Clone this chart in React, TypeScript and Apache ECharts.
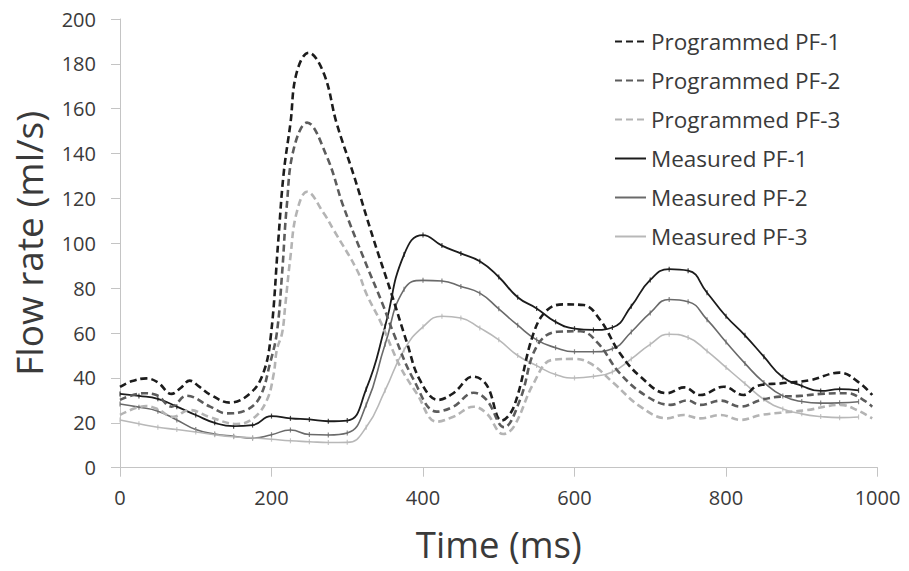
import React, { useEffect, useRef } from "react";
import * as echarts from "echarts";

const seriesNames = [
  "Programmed PF-1",
  "Programmed PF-2",
  "Programmed PF-3",
  "Measured PF-1",
  "Measured PF-2",
  "Measured PF-3",
];

// Programmed curves: [time ms, flow ml/s]
const progPF1: [number, number][] = [
  [0, 36], [15, 38.5], [35, 39.8], [50, 38], [68, 32.9], [80, 35.5], [92, 38.8], [105, 36],
  [120, 32.4], [145, 29], [172, 33.2], [189, 42], [199, 58.4], [209, 101.5], [216, 131],
  [225, 153.5], [233, 175.8], [249, 185], [269, 175.8], [286, 153.5], [308, 131], [335, 101.5],
  [357, 79], [379, 55.5], [396, 39], [420, 30.2], [440, 33.2], [466, 40.6], [484, 36.9],
  [504, 21], [520, 27.2], [546, 60], [564, 70.3], [586, 72.8], [612, 72.5], [634, 65.8],
  [660, 51], [687, 40.6], [722, 33.2], [745, 35.8], [766, 32.4], [797, 36.1], [823, 32.4],
  [841, 36.4], [872, 37.6], [911, 39], [950, 42.4], [977, 37.6], [993, 32.4],
];
const progPF2: [number, number][] = [
  [0, 30.2], [31, 33.2], [48, 32.4], [68, 27.2], [88, 32.1], [119, 27.2], [141, 24.2],
  [167, 25.7], [185, 31.7], [198, 46.5], [207, 60], [214, 86.7], [220, 116], [229, 141.6],
  [247, 153.8], [273, 138.7], [295, 116.4], [321, 94], [348, 71.8], [361, 60], [388, 39],
  [418, 25], [440, 27.2], [467, 33.4], [484, 30.2], [507, 18], [528, 30.2], [550, 54],
  [577, 60.6], [608, 60.8], [631, 55.5], [660, 42], [696, 31.7], [727, 28], [749, 30],
  [766, 28], [793, 29.9], [819, 27.2], [846, 30.2], [872, 31.7], [898, 32], [925, 32.9],
  [960, 33.2], [980, 30.5], [993, 27.2],
];
const progPF3: [number, number][] = [
  [0, 23.5], [35, 27.5], [50, 26], [70, 22.7], [92, 25.7], [119, 22.5], [154, 19.5],
  [176, 22], [194, 30.2], [203, 42], [207, 52.5], [214, 60], [218, 71.8], [225, 94],
  [233, 113.4], [247, 123], [269, 113.4], [282, 106], [313, 88], [326, 77], [344, 65],
  [370, 45], [392, 33], [418, 20.5], [440, 22.7], [467, 27.2], [484, 24.2], [506, 15],
  [520, 18.3], [546, 37.6], [570, 48], [599, 48.5], [621, 46.5], [652, 37.6], [687, 27.2],
  [722, 22], [744, 23.5], [766, 22], [793, 23.5], [819, 21.3], [846, 23.5], [872, 24.5],
  [907, 25.7], [951, 28], [973, 25.7], [993, 22],
];

// Measured curves sampled every 25 ms
const measuredTimes = [
  0, 25, 50, 75, 100, 125, 150, 175, 200, 225, 250, 275, 300, 325, 350, 375, 400, 425, 450,
  475, 500, 525, 550, 575, 600, 625, 650, 675, 700, 725, 750, 775, 800, 825, 850, 875, 900,
  925, 950, 975,
];
const measPF1 = [
  32.9, 32, 30.7, 27.2, 23.5, 20, 18.5, 19, 23, 22, 21.5, 20.7, 21, 35, 63, 95, 103.7, 99,
  95.5, 92, 85, 76, 71, 65, 62, 61.4, 62.5, 72, 83.7, 88.5, 87.8, 78, 67.5, 59, 49.5, 40.3,
  36.5, 34.2, 35, 34.5,
];
const measPF2 = [
  28.4, 27, 25.2, 21.3, 17, 15, 14, 13.2, 14.7, 16.8, 14.8, 14.6, 15.5, 28, 55, 79.5, 83.5,
  83.2, 80.8, 77.8, 70.8, 63.5, 57, 53.5, 51.7, 51.7, 53, 60.5, 69, 75, 74, 66, 56, 46.5, 38,
  32, 29.5, 28.8, 28.9, 29.4,
];
const measPF3 = [
  21.3, 19.6, 18, 17, 15.9, 14.7, 13.8, 13.3, 12.7, 12, 11.6, 11.2, 11.3, 18, 34.5, 52.5,
  62.8, 67.5, 66.7, 62.3, 57, 50, 45.5, 41.5, 40, 40.7, 42.7, 48.5, 55, 59.5, 58, 52, 44.7,
  37.5, 30.5, 26.2, 24, 22.8, 22.3, 22.6,
];

const colors = ["#1c1c1c", "#5c5c5c", "#b4b4b4", "#1c1c1c", "#6a6a6a", "#b8b8b8"];
const FONT = "'Open Sans', 'DejaVu Sans', sans-serif";

export default function App() {
  const ref = useRef<HTMLDivElement>(null);
  useEffect(() => {
    if (!ref.current) return;
    const chart = echarts.init(ref.current, null, { renderer: "svg" });
    const pair = (ys: number[]) => measuredTimes.map((t, i) => [t, ys[i]]);
    const prog = [progPF1, progPF2, progPF3];
    const meas = [measPF1, measPF2, measPF3];
    const series: any[] = [];
    prog.forEach((d, i) => {
      series.push({
        name: seriesNames[i],
        type: "line",
        data: d,
        smooth: 0.4,
        symbol: "none",
        z: 3,
        lineStyle: { color: colors[i], width: 2.6, type: [7, 4] },
        itemStyle: { color: colors[i] },
      });
    });
    meas.forEach((ys, i) => {
      series.push({
        name: seriesNames[i + 3],
        type: "line",
        data: pair(ys),
        smooth: 0.5,
        symbol: "none",
        z: 2,
        lineStyle: { color: colors[i + 3], width: i === 0 ? 1.8 : 1.6 },
        itemStyle: { color: colors[i + 3] },
      });
      series.push({
        name: seriesNames[i + 3] + " err",
        type: "scatter",
        data: pair(ys),
        symbol: "rect",
        symbolSize: [1.2, 5],
        z: 2,
        itemStyle: { color: colors[i + 3] },
        silent: true,
      });
    });
    chart.setOption({
      animation: false,
      backgroundColor: "#ffffff",
      grid: { left: 120, right: 31.5, top: 19, bottom: 103.3, containLabel: false },
      legend: {
        data: seriesNames,
        orient: "vertical",
        left: 609,
        top: 25,
        itemWidth: 31,
        itemHeight: 14,
        itemGap: 16,
        itemStyle: { opacity: 0 },
        textStyle: { fontFamily: FONT, fontSize: 22.5, color: "#3a3a3a" },
      },
      xAxis: {
        type: "value",
        min: 0,
        max: 1000,
        interval: 200,
        name: "Time (ms)",
        nameLocation: "middle",
        nameGap: 58,
        nameTextStyle: { fontFamily: FONT, fontSize: 36.5, color: "#3a3a3a" },
        axisLine: { show: true, lineStyle: { color: "#c4c4c4", width: 1 } },
        axisTick: { show: true, length: 9, lineStyle: { color: "#c4c4c4" } },
        axisLabel: {
          fontFamily: FONT,
          fontSize: 20,
          color: "#3a3a3a",
          margin: 20,
          formatter: (v: number) => String(v),
        },
        splitLine: { show: false },
      },
      yAxis: {
        type: "value",
        min: 0,
        max: 200,
        interval: 20,
        name: "Flow rate (ml/s)",
        nameLocation: "middle",
        nameGap: 73,
        nameTextStyle: { fontFamily: FONT, fontSize: 37, color: "#3a3a3a" },
        axisLine: { show: true, lineStyle: { color: "#c4c4c4", width: 1 } },
        axisTick: { show: true, length: 9, lineStyle: { color: "#c4c4c4" } },
        axisLabel: { fontFamily: FONT, fontSize: 20, color: "#3a3a3a", margin: 24 },
        splitLine: { show: false },
      },
      series,
    });
    return () => chart.dispose();
  }, []);
  return (
    <div
      ref={ref}
      style={{ position: "fixed", left: 0, top: 0, width: 909, height: 571, background: "#fff" }}
    />
  );
}
